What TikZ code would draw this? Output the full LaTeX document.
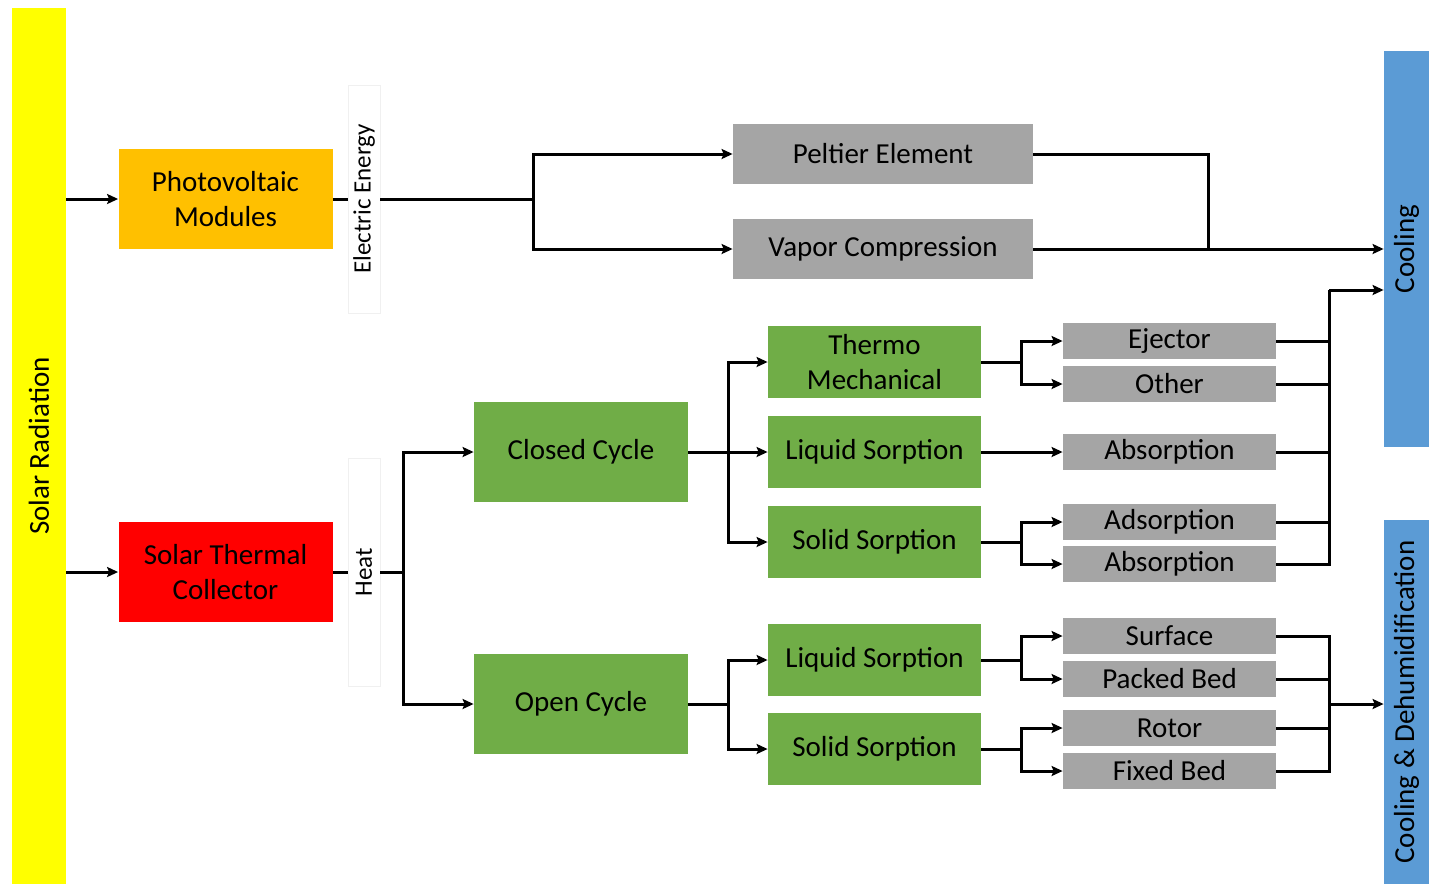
\documentclass[tikz,border=0pt]{standalone}
\usepackage{fontspec}
\setmainfont{Carlito}
\usetikzlibrary{arrows.meta}

\definecolor{sunyellow}{HTML}{FFFF00}
\definecolor{pvorange}{HTML}{FFC000}
\definecolor{heatred}{HTML}{FF0000}
\definecolor{cyclegreen}{HTML}{70AD47}
\definecolor{techgray}{HTML}{A5A5A5}
\definecolor{outblue}{HTML}{5B9BD5}

\begin{document}
\begin{tikzpicture}[x=0.5pt, y=-0.5pt,
    box/.style={rectangle, inner sep=0pt, align=center,
      font=\fontsize{14.5}{17.5}\selectfont},
    bigbox/.style={box, minimum width=107pt, minimum height=50pt},
    midbox/.style={box, fill=cyclegreen, minimum width=106.5pt, minimum height=36pt},
    smallbox/.style={box, fill=techgray, minimum width=106.5pt, minimum height=18pt},
    tag/.style={rectangle, inner sep=0pt, draw=black!6, fill=white, rotate=90,
      minimum width=114pt, minimum height=16pt, font=\fontsize{12.5}{14}\selectfont},
    bar/.style={box, rotate=90},
    link/.style={line width=1.5pt},
    feed/.style={link, -{Stealth[length=5.5pt, width=5pt, inset=1pt]}}]

  \useasboundingbox (0, 0) rectangle (1429, 884);

  % side bars
  \node[bar, fill=sunyellow, minimum width=438pt, minimum height=27pt]
    (sun) at (39, 446) {Solar Radiation};
  \node[bar, fill=outblue, minimum width=198pt, minimum height=22.5pt]
    (cool) at (1406.5, 249) {Cooling};
  \node[bar, fill=outblue, minimum width=182pt, minimum height=22.5pt]
    (dehum) at (1406.5, 702) {Cooling \& Dehumidification};

  % collectors
  \node[bigbox, fill=pvorange] (pv) at (225.5, 199) {Photovoltaic\\Modules};
  \node[bigbox, fill=heatred] (stc) at (225.5, 572) {Solar Thermal\\Collector};
  \node[tag] (elec) at (364, 199) {Electric Energy};
  \node[tag] (heat) at (364, 572) {Heat};

  % electric driven
  \node[box, fill=techgray, minimum width=150pt, minimum height=30pt]
    (peltier) at (883, 154) {Peltier Element};
  \node[box, fill=techgray, minimum width=150pt, minimum height=30pt]
    (vapor) at (883, 249) {Vapor Compression};

  % heat driven
  \node[bigbox, fill=cyclegreen] (closed) at (581, 452) {Closed Cycle};
  \node[bigbox, fill=cyclegreen] (open) at (581, 704) {Open Cycle};

  \node[midbox] (thermo) at (874.5, 362) {Thermo\\Mechanical};
  \node[midbox] (liqc) at (874.5, 452) {Liquid Sorption};
  \node[midbox] (solc) at (874.5, 542) {Solid Sorption};
  \node[midbox] (liqo) at (874.5, 660) {Liquid Sorption};
  \node[midbox] (solo) at (874.5, 749) {Solid Sorption};

  \node[smallbox] (ejector) at (1169.5, 341) {Ejector};
  \node[smallbox] (other) at (1169.5, 384) {Other};
  \node[smallbox] (absl) at (1169.5, 452) {Absorption};
  \node[smallbox] (adsorp) at (1169.5, 522) {Adsorption};
  \node[smallbox] (abss) at (1169.5, 564) {Absorption};
  \node[smallbox] (surface) at (1169.5, 636) {Surface};
  \node[smallbox] (packed) at (1169.5, 679) {Packed Bed};
  \node[smallbox] (rotor) at (1169.5, 728) {Rotor};
  \node[smallbox] (fixed) at (1169.5, 771) {Fixed Bed};

  % branch points
  \coordinate (esplit) at (533, 199);
  \coordinate (hsplit) at (403, 572);
  \coordinate (csplit) at (728, 452);
  \coordinate (osplit) at (728, 704);
  \coordinate (tsplit) at (1021, 362);
  \coordinate (ssplit) at (1021, 542);
  \coordinate (lsplit) at (1021, 660);
  \coordinate (rsplit) at (1021, 749);
  \coordinate (pjoin) at (1208, 249);
  \coordinate (cjoin) at (1329, 290);
  \coordinate (djoin) at (1329, 704);

  % solar input
  \draw[feed] (sun.south |- pv.west) -- (pv.west);
  \draw[feed] (sun.south |- stc.west) -- (stc.west);

  % electric branch
  \draw[link] (pv.east) -- (elec.north);
  \draw[link] (elec.south) -- (esplit);
  \draw[feed] (esplit) |- (peltier.west);
  \draw[feed] (esplit) |- (vapor.west);
  \draw[link] (peltier.east) -| (pjoin);
  \draw[feed] (vapor.east) -- (vapor.east -| cool.north);

  % heat branch
  \draw[link] (stc.east) -- (heat.north);
  \draw[link] (heat.south) -- (hsplit);
  \draw[feed] (hsplit) |- (closed.west);
  \draw[feed] (hsplit) |- (open.west);

  \draw[link] (closed.east) -- (csplit);
  \draw[feed] (csplit) |- (thermo.west);
  \draw[feed] (csplit) -- (liqc.west);
  \draw[feed] (csplit) |- (solc.west);
  \draw[link] (open.east) -- (osplit);
  \draw[feed] (osplit) |- (liqo.west);
  \draw[feed] (osplit) |- (solo.west);

  \draw[link] (thermo.east) -- (tsplit);
  \draw[feed] (tsplit) |- (ejector.west);
  \draw[feed] (tsplit) |- (other.west);
  \draw[feed] (liqc.east) -- (absl.west);
  \draw[link] (solc.east) -- (ssplit);
  \draw[feed] (ssplit) |- (adsorp.west);
  \draw[feed] (ssplit) |- (abss.west);
  \draw[link] (liqo.east) -- (lsplit);
  \draw[feed] (lsplit) |- (surface.west);
  \draw[feed] (lsplit) |- (packed.west);
  \draw[link] (solo.east) -- (rsplit);
  \draw[feed] (rsplit) |- (rotor.west);
  \draw[feed] (rsplit) |- (fixed.west);

  % outputs
  \draw[link] (abss.east) -| (cjoin);
  \foreach \src in {ejector, other, absl, adsorp}
    \draw[link] (\src.east) -- (\src.east -| cjoin);
  \draw[feed] (cjoin) -- (cjoin -| cool.north);

  \draw[link] (surface.east) -| (djoin);
  \draw[link] (fixed.east) -| (djoin);
  \foreach \src in {packed, rotor}
    \draw[link] (\src.east) -- (\src.east -| djoin);
  \draw[feed] (djoin) -- (djoin -| dehum.north);
\end{tikzpicture}
\end{document}
